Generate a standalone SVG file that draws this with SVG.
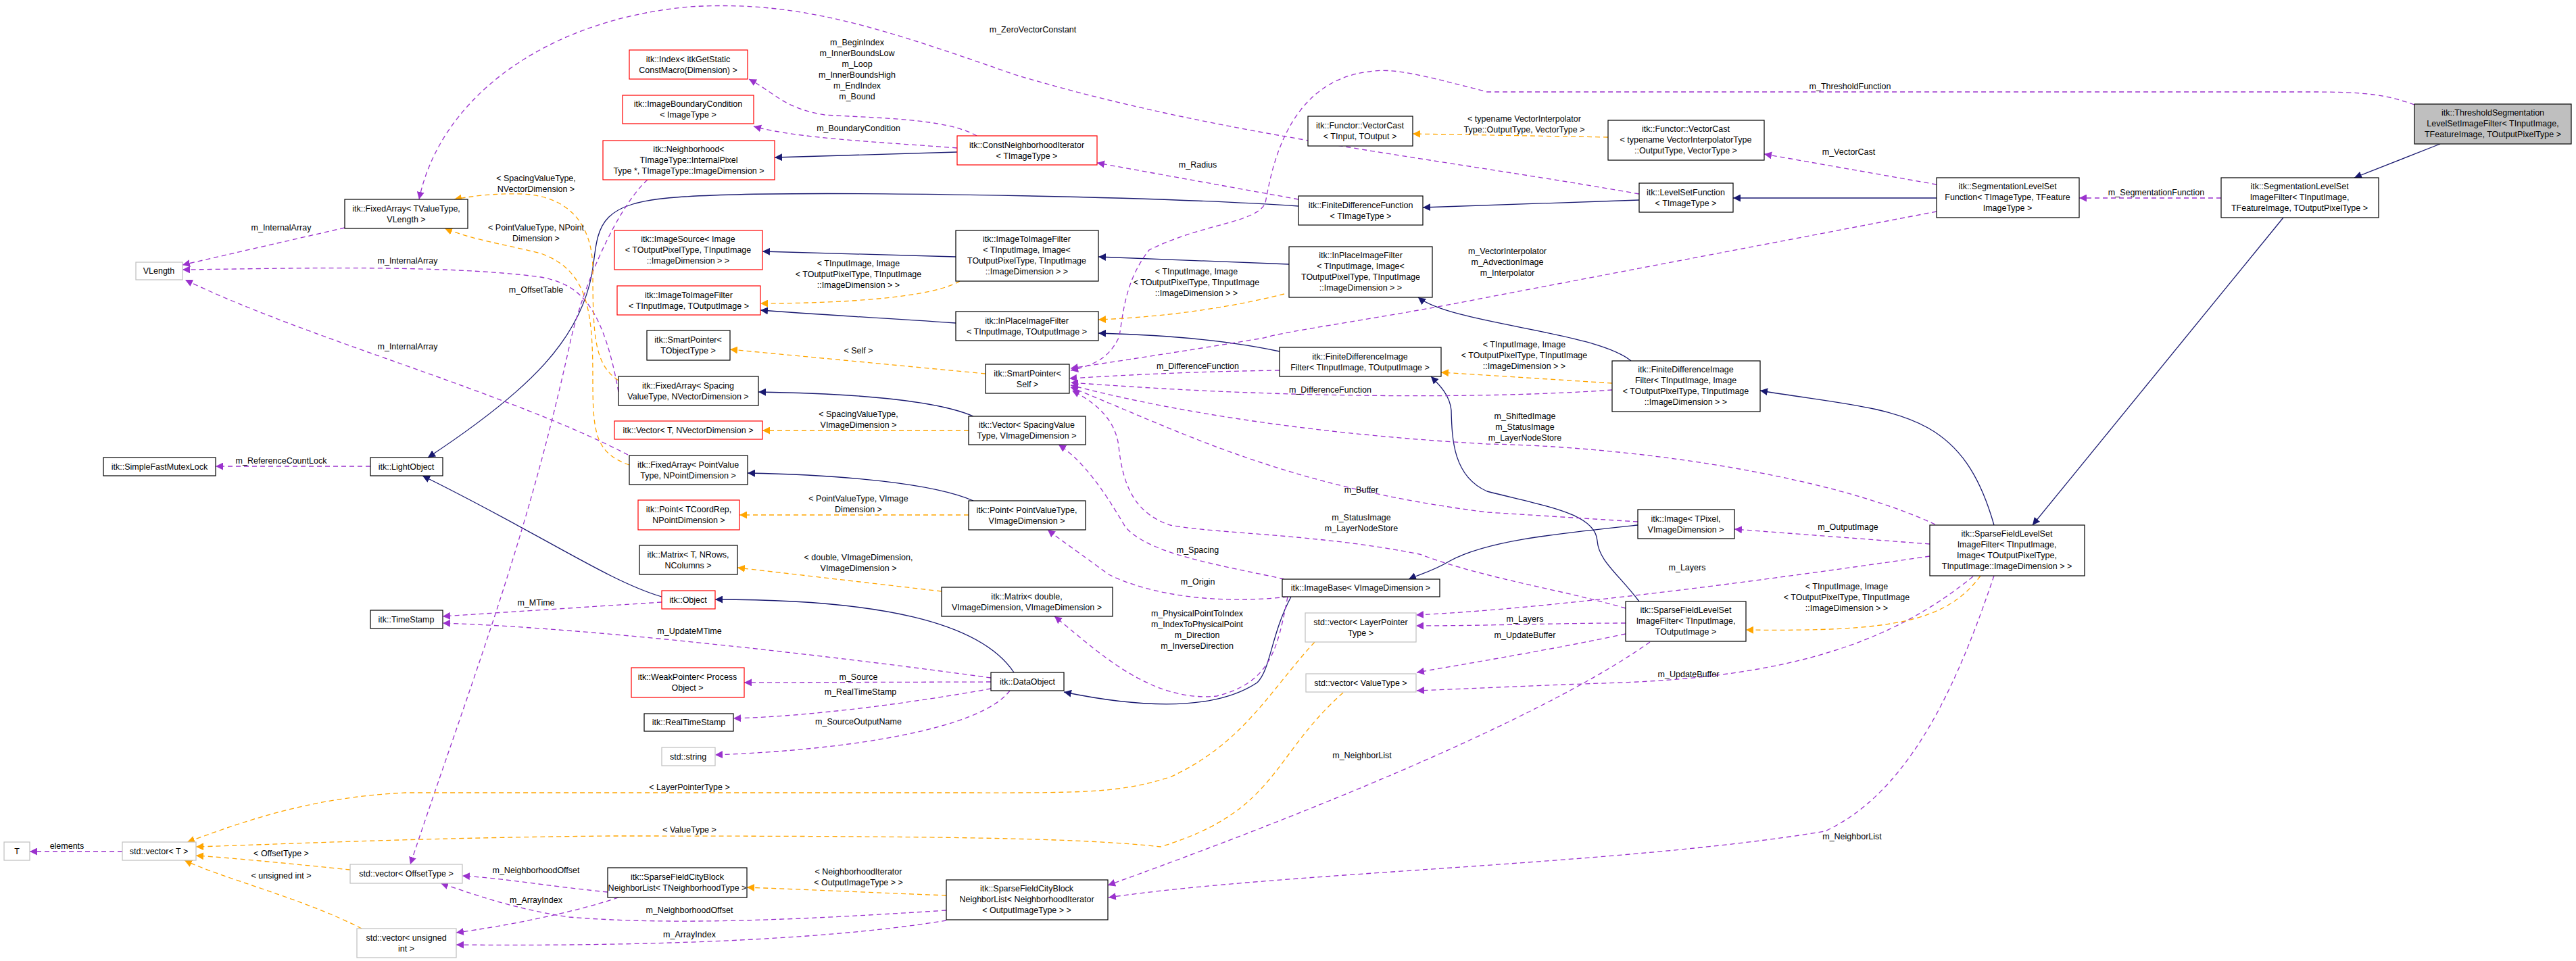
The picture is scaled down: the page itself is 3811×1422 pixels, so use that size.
<svg xmlns="http://www.w3.org/2000/svg" width="3811" height="1422" viewBox="0 0 3811 1422">
<style>
text{font-family:"Liberation Sans",Arial,sans-serif;font-size:12.5px;fill:#000;text-anchor:middle;dominant-baseline:central}
.n rect{fill:#fff;stroke:#000;stroke-width:1.2}
.r rect{stroke:#ff0000}
.g rect{stroke:#bfbfbf}
.inh{fill:none;stroke:#191970;stroke-width:1.3;marker-end:url(#mi)}
.use{fill:none;stroke:#9a32cd;stroke-width:1.3;stroke-dasharray:7,5;marker-end:url(#mu)}
.tpl{fill:none;stroke:#ffa500;stroke-width:1.3;stroke-dasharray:7,5;marker-end:url(#mt)}
</style>
<defs>
<marker id="mi" viewBox="0 0 10 10" refX="10" refY="5" markerWidth="11" markerHeight="11" markerUnits="userSpaceOnUse" orient="auto"><path d="M0,0 L10,5 L0,10 z" fill="#191970"/></marker>
<marker id="mu" viewBox="0 0 10 10" refX="10" refY="5" markerWidth="11" markerHeight="11" markerUnits="userSpaceOnUse" orient="auto"><path d="M0,0 L10,5 L0,10 z" fill="#9a32cd"/></marker>
<marker id="mt" viewBox="0 0 10 10" refX="10" refY="5" markerWidth="11" markerHeight="11" markerUnits="userSpaceOnUse" orient="auto"><path d="M0,0 L10,5 L0,10 z" fill="#ffa500"/></marker>
</defs>
<rect width="3811" height="1422" fill="#fff"/>
<g id="edges">
<path class="inh" d="M1416,225 L1146,233"/>
<path class="inh" d="M1921,305 C1700,290 1150,280 1000,292 C890,300 885,330 878,390 C865,500 780,580 633,677"/>
<path class="inh" d="M2425,296 L2105,307"/>
<path class="inh" d="M2865,293 L2564,293"/>
<path class="inh" d="M3610,213 L3483,263"/>
<path class="inh" d="M1414,380 L1128,372"/>
<path class="inh" d="M1414,478 C1300,470 1200,465 1125,459"/>
<path class="inh" d="M1907,391 L1625,380"/>
<path class="inh" d="M1893,520 C1800,500 1700,495 1625,493"/>
<path class="inh" d="M2413,534 C2360,490 2150,480 2098,440"/>
<path class="inh" d="M1440,616 C1380,590 1250,582 1122,580"/>
<path class="inh" d="M1440,741 C1380,715 1250,703 1106,700"/>
<path class="inh" d="M1500,995 C1450,920 1300,887 1058,887"/>
<path class="inh" d="M979,883 C900,860 800,790 625,704"/>
<path class="inh" d="M1910,883 C1880,940 1880,990 1860,1010 C1800,1050 1700,1050 1574,1024"/>
<path class="inh" d="M2423,777 C2300,790 2200,800 2145,830 C2120,845 2100,850 2084,857"/>
<path class="inh" d="M2950,777 C2900,600 2800,610 2604,578"/>
<path class="inh" d="M3378,322 L3007,777"/>
<path class="inh" d="M2425,890 C2395,850 2365,830 2363,800 C2360,760 2290,750 2200,727 C2150,705 2148,650 2147,607 C2145,585 2130,570 2117,557"/>
<path class="use" d="M2425,287 C2100,230 1800,200 1500,110 C1300,40 1180,0 1020,10 C800,30 650,150 620,295"/>
<path class="use" d="M1445,201 C1400,175 1300,175 1220,170 C1160,160 1150,140 1108,117"/>
<path class="use" d="M1416,219 C1300,210 1180,205 1115,187"/>
<path class="use" d="M1921,295 L1623,241"/>
<path class="use" d="M2865,273 L2610,228"/>
<path class="use" d="M3286,293 L3076,293"/>
<path class="use" d="M3572,155 C3530,140 3500,136 3420,136 L2200,136 C2100,110 2060,100 2026,106 C1900,120 1880,260 1872,300 C1860,330 1780,330 1700,370 C1660,420 1661,480 1655,500 C1640,530 1620,540 1584,548"/>
<path class="use" d="M2865,313 L2200,440 C2050,470 1900,490 1870,500 C1750,520 1650,535 1584,545"/>
<path class="use" d="M1893,548 C1750,550 1650,556 1582,560"/>
<path class="use" d="M2385,577 C2200,590 1900,590 1584,566"/>
<path class="use" d="M2423,772 L2200,758 C1900,720 1750,640 1584,573"/>
<path class="use" d="M2863,776 C2700,700 2400,660 2200,657 C1900,640 1700,600 1584,570"/>
<path class="use" d="M2405,900 C2300,870 2200,857 2100,820 C1950,790 1800,790 1731,777 C1680,760 1661,720 1655,660 C1650,620 1620,595 1586,578"/>
<path class="use" d="M1900,857 C1800,835 1700,820 1665,780 C1630,720 1600,680 1566,658"/>
<path class="use" d="M1905,883 C1800,895 1700,880 1640,850 C1600,820 1570,800 1550,784"/>
<path class="use" d="M1905,883 C1890,960 1880,1010 1800,1030 C1700,1040 1620,960 1560,912"/>
<path class="use" d="M2855,805 L2566,783"/>
<path class="use" d="M2855,823 C2600,860 2300,900 2095,910"/>
<path class="use" d="M2405,922 C2300,922 2200,926 2095,926"/>
<path class="use" d="M2405,938 C2300,960 2200,977 2096,995"/>
<path class="use" d="M2919,853 C2800,950 2652,1000 2400,1010 C2250,1015 2150,1020 2096,1022"/>
<path class="use" d="M2441,950 C2300,1050 2000,1180 1639,1310"/>
<path class="use" d="M2950,852 C2900,1000 2830,1170 2700,1230 C2400,1280 1900,1290 1640,1328"/>
<path class="use" d="M548,690 L319,690"/>
<path class="use" d="M979,891 L655,912"/>
<path class="use" d="M1466,1003 C1300,980 900,930 655,922"/>
<path class="use" d="M1466,1009 L1101,1010"/>
<path class="use" d="M1466,1019 C1350,1040 1200,1060 1085,1063"/>
<path class="use" d="M1494,1022 C1450,1080 1250,1110 1058,1117"/>
<path class="use" d="M510,337 L270,392"/>
<path class="use" d="M915,580 C890,440 850,420 800,410 C650,390 400,398 270,399"/>
<path class="use" d="M929,673 C750,580 450,500 274,414"/>
<path class="use" d="M958,266 C920,300 870,400 845,500 C780,800 700,1000 607,1279"/>
<path class="use" d="M181,1260 L44,1260"/>
<path class="use" d="M899,1320 C800,1310 750,1300 684,1296"/>
<path class="use" d="M915,1328 C850,1350 750,1370 675,1380"/>
<path class="use" d="M1400,1347 C1200,1360 1000,1370 842,1357 C760,1345 700,1323 652,1307"/>
<path class="use" d="M1400,1362 C1200,1395 900,1400 675,1398"/>
<path class="tpl" d="M2379,203 L2090,198"/>
<path class="tpl" d="M1420,416 C1380,440 1250,449 1125,449"/>
<path class="tpl" d="M1900,435 C1800,460 1700,470 1625,473"/>
<path class="tpl" d="M2385,567 L2132,551"/>
<path class="tpl" d="M1458,553 L1080,517"/>
<path class="tpl" d="M1433,637 L1128,637"/>
<path class="tpl" d="M1433,762 L1094,762"/>
<path class="tpl" d="M1393,875 L1091,840"/>
<path class="tpl" d="M2930,852 C2880,920 2800,935 2583,932"/>
<path class="tpl" d="M1987,1025 C1880,1120 1890,1200 1717,1253 C1600,1240 1400,1237 900,1237 C600,1240 400,1250 290,1253"/>
<path class="tpl" d="M1945,950 C1880,1020 1840,1100 1731,1150 C1650,1175 1600,1173 1400,1173 L600,1173 C450,1180 350,1220 277,1246"/>
<path class="tpl" d="M518,1287 C450,1280 350,1270 290,1266"/>
<path class="tpl" d="M535,1374 C450,1330 330,1300 273,1273"/>
<path class="tpl" d="M1400,1325 L1105,1313"/>
<path class="tpl" d="M915,563 C880,540 877,500 877,400 C877,330 840,290 772,287 C730,286 700,290 672,295"/>
<path class="tpl" d="M931,688 C880,670 877,640 877,560 C877,460 870,400 800,375 C740,360 700,355 658,338"/>
</g>
<g id="labels">
<text x="1528" y="44">m_ZeroVectorConstant</text>
<text x="1268" y="63">m_BeginIndex</text><text x="1268" y="79">m_InnerBoundsLow</text><text x="1268" y="95">m_Loop</text><text x="1268" y="111">m_InnerBoundsHigh</text><text x="1268" y="127">m_EndIndex</text><text x="1268" y="143">m_Bound</text>
<text x="1270" y="190">m_BoundaryCondition</text>
<text x="1772" y="244">m_Radius</text>
<text x="2255" y="176">&lt; typename VectorInterpolator</text><text x="2255" y="192">Type::OutputType, VectorType &gt;</text>
<text x="2737" y="128">m_ThresholdFunction</text>
<text x="2735" y="225">m_VectorCast</text>
<text x="3190" y="285">m_SegmentationFunction</text>
<text x="2230" y="372">m_VectorInterpolator</text><text x="2230" y="388">m_AdvectionImage</text><text x="2230" y="404">m_Interpolator</text>
<text x="1270" y="390">&lt; TInputImage, Image</text><text x="1270" y="406">&lt; TOutputPixelType, TInputImage</text><text x="1270" y="422">::ImageDimension &gt; &gt;</text>
<text x="1770" y="402">&lt; TInputImage, Image</text><text x="1770" y="418">&lt; TOutputPixelType, TInputImage</text><text x="1770" y="434">::ImageDimension &gt; &gt;</text>
<text x="2255" y="510">&lt; TInputImage, Image</text><text x="2255" y="526">&lt; TOutputPixelType, TInputImage</text><text x="2255" y="542">::ImageDimension &gt; &gt;</text>
<text x="1772" y="542">m_DifferenceFunction</text>
<text x="1968" y="577">m_DifferenceFunction</text>
<text x="1270" y="519">&lt; Self &gt;</text>
<text x="1270" y="613">&lt; SpacingValueType,</text><text x="1270" y="629">VImageDimension &gt;</text>
<text x="1270" y="738">&lt; PointValueType, VImage</text><text x="1270" y="754">Dimension &gt;</text>
<text x="1270" y="825">&lt; double, VImageDimension,</text><text x="1270" y="841">VImageDimension &gt;</text>
<text x="2014" y="725">m_Buffer</text>
<text x="2014" y="766">m_StatusImage</text><text x="2014" y="782">m_LayerNodeStore</text>
<text x="1772" y="814">m_Spacing</text>
<text x="1772" y="861">m_Origin</text>
<text x="1771" y="908">m_PhysicalPointToIndex</text><text x="1771" y="924">m_IndexToPhysicalPoint</text><text x="1771" y="940">m_Direction</text><text x="1771" y="956">m_InverseDirection</text>
<text x="2256" y="616">m_ShiftedImage</text><text x="2256" y="632">m_StatusImage</text><text x="2256" y="648">m_LayerNodeStore</text>
<text x="2734" y="780">m_OutputImage</text>
<text x="2496" y="840">m_Layers</text>
<text x="2256" y="916">m_Layers</text>
<text x="2256" y="940">m_UpdateBuffer</text>
<text x="2498" y="998">m_UpdateBuffer</text>
<text x="2732" y="868">&lt; TInputImage, Image</text><text x="2732" y="884">&lt; TOutputPixelType, TInputImage</text><text x="2732" y="900">::ImageDimension &gt; &gt;</text>
<text x="2015" y="1118">m_NeighborList</text>
<text x="2740" y="1238">m_NeighborList</text>
<text x="416" y="682">m_ReferenceCountLock</text>
<text x="793" y="892">m_MTime</text>
<text x="1020" y="934">m_UpdateMTime</text>
<text x="1270" y="1002">m_Source</text>
<text x="1273" y="1024">m_RealTimeStamp</text>
<text x="1270" y="1068">m_SourceOutputName</text>
<text x="416" y="337">m_InternalArray</text>
<text x="603" y="386">m_InternalArray</text>
<text x="603" y="513">m_InternalArray</text>
<text x="793" y="264">&lt; SpacingValueType,</text><text x="793" y="280">NVectorDimension &gt;</text>
<text x="793" y="337">&lt; PointValueType, NPoint</text><text x="793" y="353">Dimension &gt;</text>
<text x="793" y="429">m_OffsetTable</text>
<text x="1020" y="1165">&lt; LayerPointerType &gt;</text>
<text x="1020" y="1228">&lt; ValueType &gt;</text>
<text x="99" y="1252">elements</text>
<text x="416" y="1263">&lt; OffsetType &gt;</text>
<text x="416" y="1296">&lt; unsigned int &gt;</text>
<text x="793" y="1288">m_NeighborhoodOffset</text>
<text x="1020" y="1347">m_NeighborhoodOffset</text>
<text x="793" y="1332">m_ArrayIndex</text>
<text x="1020" y="1383">m_ArrayIndex</text>
<text x="1270" y="1290">&lt; NeighborhoodIterator</text><text x="1270" y="1306">&lt; OutputImageType &gt; &gt;</text>
</g>
<g id="n_index" class="n r"><rect x="931" y="74" width="175" height="43"/><text x="1018" y="88">itk::Index&lt; itkGetStatic</text><text x="1018" y="104">ConstMacro(Dimension) &gt;</text></g>
<g id="n_ibc" class="n r"><rect x="921" y="141" width="194" height="42"/><text x="1018" y="154">itk::ImageBoundaryCondition</text><text x="1018" y="170">&lt; ImageType &gt;</text></g>
<g id="n_nbh" class="n r"><rect x="892" y="208" width="254" height="58"/><text x="1019" y="221">itk::Neighborhood&lt;</text><text x="1019" y="237">TImageType::InternalPixel</text><text x="1019" y="253">Type *, TImageType::ImageDimension &gt;</text></g>
<g id="n_fa_tv" class="n"><rect x="510" y="295" width="182" height="43"/><text x="601" y="309">itk::FixedArray&lt; TValueType,</text><text x="601" y="325">VLength &gt;</text></g>
<g id="n_vlength" class="n g"><rect x="201" y="388" width="69" height="26"/><text x="235" y="401">VLength</text></g>
<g id="n_isrc" class="n r"><rect x="909" y="341" width="219" height="58"/><text x="1018" y="354">itk::ImageSource&lt; Image</text><text x="1018" y="370">&lt; TOutputPixelType, TInputImage</text><text x="1018" y="386">::ImageDimension &gt; &gt;</text></g>
<g id="n_itif_to" class="n r"><rect x="913" y="423" width="212" height="43"/><text x="1019" y="437">itk::ImageToImageFilter</text><text x="1019" y="453">&lt; TInputImage, TOutputImage &gt;</text></g>
<g id="n_sp_obj" class="n"><rect x="957" y="489" width="123" height="44"/><text x="1018" y="503">itk::SmartPointer&lt;</text><text x="1018" y="519">TObjectType &gt;</text></g>
<g id="n_cni" class="n r"><rect x="1416" y="201" width="207" height="43"/><text x="1519" y="215">itk::ConstNeighborhoodIterator</text><text x="1519" y="231">&lt; TImageType &gt;</text></g>
<g id="n_fvc" class="n"><rect x="1935" y="172" width="155" height="44"/><text x="2012" y="186">itk::Functor::VectorCast</text><text x="2012" y="202">&lt; TInput, TOutput &gt;</text></g>
<g id="n_fdf" class="n"><rect x="1921" y="290" width="184" height="43"/><text x="2013" y="304">itk::FiniteDifferenceFunction</text><text x="2013" y="320">&lt; TImageType &gt;</text></g>
<g id="n_itif_img" class="n"><rect x="1414" y="341" width="211" height="75"/><text x="1519" y="354">itk::ImageToImageFilter</text><text x="1519" y="370">&lt; TInputImage, Image&lt;</text><text x="1519" y="386">TOutputPixelType, TInputImage</text><text x="1519" y="402">::ImageDimension &gt; &gt;</text></g>
<g id="n_ipif_img" class="n"><rect x="1907" y="365" width="212" height="75"/><text x="2013" y="378">itk::InPlaceImageFilter</text><text x="2013" y="394">&lt; TInputImage, Image&lt;</text><text x="2013" y="410">TOutputPixelType, TInputImage</text><text x="2013" y="426">::ImageDimension &gt; &gt;</text></g>
<g id="n_ipif_to" class="n"><rect x="1414" y="461" width="211" height="43"/><text x="1519" y="475">itk::InPlaceImageFilter</text><text x="1519" y="491">&lt; TInputImage, TOutputImage &gt;</text></g>
<g id="n_thresh" class="n"><rect x="3572" y="154" width="232" height="59" style="fill:#bfbfbf"/><text x="3688" y="167">itk::ThresholdSegmentation</text><text x="3688" y="183">LevelSetImageFilter&lt; TInputImage,</text><text x="3688" y="199">TFeatureImage, TOutputPixelType &gt;</text></g>
<g id="n_vc" class="n"><rect x="2379" y="178" width="231" height="59"/><text x="2494" y="191">itk::Functor::VectorCast</text><text x="2494" y="207">&lt; typename VectorInterpolatorType</text><text x="2494" y="223">::OutputType, VectorType &gt;</text></g>
<g id="n_lsf" class="n"><rect x="2425" y="271" width="139" height="43"/><text x="2494" y="285">itk::LevelSetFunction</text><text x="2494" y="301">&lt; TImageType &gt;</text></g>
<g id="n_slsf" class="n"><rect x="2865" y="263" width="211" height="59"/><text x="2970" y="276">itk::SegmentationLevelSet</text><text x="2970" y="292">Function&lt; TImageType, TFeature</text><text x="2970" y="308">ImageType &gt;</text></g>
<g id="n_slsif" class="n"><rect x="3286" y="263" width="233" height="59"/><text x="3402" y="276">itk::SegmentationLevelSet</text><text x="3402" y="292">ImageFilter&lt; TInputImage,</text><text x="3402" y="308">TFeatureImage, TOutputPixelType &gt;</text></g>
<g id="n_fa_sp" class="n"><rect x="915" y="557" width="207" height="43"/><text x="1018" y="571">itk::FixedArray&lt; Spacing</text><text x="1018" y="587">ValueType, NVectorDimension &gt;</text></g>
<g id="n_vec_t" class="n r"><rect x="909" y="623" width="219" height="27"/><text x="1018" y="637">itk::Vector&lt; T, NVectorDimension &gt;</text></g>
<g id="n_fa_pt" class="n"><rect x="931" y="674" width="175" height="43"/><text x="1018" y="688">itk::FixedArray&lt; PointValue</text><text x="1018" y="704">Type, NPointDimension &gt;</text></g>
<g id="n_pt_t" class="n r"><rect x="944" y="740" width="150" height="44"/><text x="1019" y="754">itk::Point&lt; TCoordRep,</text><text x="1019" y="770">NPointDimension &gt;</text></g>
<g id="n_mat_t" class="n"><rect x="946" y="807" width="145" height="43"/><text x="1018" y="821">itk::Matrix&lt; T, NRows,</text><text x="1018" y="837">NColumns &gt;</text></g>
<g id="n_obj" class="n r"><rect x="979" y="874" width="79" height="27"/><text x="1018" y="888">itk::Object</text></g>
<g id="n_mutex" class="n"><rect x="153" y="677" width="166" height="27"/><text x="236" y="691">itk::SimpleFastMutexLock</text></g>
<g id="n_lobj" class="n"><rect x="548" y="677" width="107" height="27"/><text x="601" y="691">itk::LightObject</text></g>
<g id="n_ts" class="n"><rect x="548" y="903" width="107" height="27"/><text x="601" y="917">itk::TimeStamp</text></g>
<g id="n_weak" class="n r"><rect x="934" y="988" width="167" height="44"/><text x="1017" y="1002">itk::WeakPointer&lt; Process</text><text x="1017" y="1018">Object &gt;</text></g>
<g id="n_sp_self" class="n"><rect x="1458" y="539" width="124" height="43"/><text x="1520" y="553">itk::SmartPointer&lt;</text><text x="1520" y="569">Self &gt;</text></g>
<g id="n_fdif_to" class="n"><rect x="1893" y="514" width="239" height="43"/><text x="2012" y="528">itk::FiniteDifferenceImage</text><text x="2012" y="544">Filter&lt; TInputImage, TOutputImage &gt;</text></g>
<g id="n_vec_sp" class="n"><rect x="1433" y="616" width="173" height="42"/><text x="1519" y="629">itk::Vector&lt; SpacingValue</text><text x="1519" y="645">Type, VImageDimension &gt;</text></g>
<g id="n_pt_pv" class="n"><rect x="1433" y="741" width="173" height="43"/><text x="1519" y="755">itk::Point&lt; PointValueType,</text><text x="1519" y="771">VImageDimension &gt;</text></g>
<g id="n_mat_d" class="n"><rect x="1393" y="869" width="253" height="43"/><text x="1519" y="883">itk::Matrix&lt; double,</text><text x="1519" y="899">VImageDimension, VImageDimension &gt;</text></g>
<g id="n_ibase" class="n"><rect x="1897" y="857" width="233" height="26"/><text x="2013" y="870">itk::ImageBase&lt; VImageDimension &gt;</text></g>
<g id="n_vlp" class="n g"><rect x="1931" y="907" width="164" height="43"/><text x="2013" y="921">std::vector&lt; LayerPointer</text><text x="2013" y="937">Type &gt;</text></g>
<g id="n_dobj" class="n"><rect x="1466" y="995" width="108" height="27"/><text x="1520" y="1009">itk::DataObject</text></g>
<g id="n_fdif_img" class="n"><rect x="2385" y="534" width="219" height="75"/><text x="2494" y="547">itk::FiniteDifferenceImage</text><text x="2494" y="563">Filter&lt; TInputImage, Image</text><text x="2494" y="579">&lt; TOutputPixelType, TInputImage</text><text x="2494" y="595">::ImageDimension &gt; &gt;</text></g>
<g id="n_image" class="n"><rect x="2423" y="754" width="143" height="43"/><text x="2494" y="768">itk::Image&lt; TPixel,</text><text x="2494" y="784">VImageDimension &gt;</text></g>
<g id="n_sflsif_img" class="n"><rect x="2855" y="777" width="229" height="75"/><text x="2969" y="790">itk::SparseFieldLevelSet</text><text x="2969" y="806">ImageFilter&lt; TInputImage,</text><text x="2969" y="822">Image&lt; TOutputPixelType,</text><text x="2969" y="838">TInputImage::ImageDimension &gt; &gt;</text></g>
<g id="n_sflsif_to" class="n"><rect x="2405" y="890" width="178" height="59"/><text x="2494" y="903">itk::SparseFieldLevelSet</text><text x="2494" y="919">ImageFilter&lt; TInputImage,</text><text x="2494" y="935">TOutputImage &gt;</text></g>
<g id="n_vvt" class="n g"><rect x="1932" y="997" width="163" height="27"/><text x="2013" y="1011">std::vector&lt; ValueType &gt;</text></g>
<g id="n_cb_ni" class="n"><rect x="1400" y="1302" width="239" height="59"/><text x="1519" y="1315">itk::SparseFieldCityBlock</text><text x="1519" y="1331">NeighborList&lt; NeighborhoodIterator</text><text x="1519" y="1347">&lt; OutputImageType &gt; &gt;</text></g>
<g id="n_str" class="n g"><rect x="979" y="1106" width="79" height="27"/><text x="1018" y="1120">std::string</text></g>
<g id="n_rts" class="n"><rect x="953" y="1056" width="132" height="26"/><text x="1019" y="1069">itk::RealTimeStamp</text></g>
<g id="n_T" class="n g"><rect x="6" y="1246" width="38" height="27"/><text x="25" y="1260">T</text></g>
<g id="n_vT" class="n g"><rect x="181" y="1246" width="109" height="27"/><text x="235" y="1260">std::vector&lt; T &gt;</text></g>
<g id="n_voff" class="n g"><rect x="518" y="1279" width="166" height="28"/><text x="601" y="1293">std::vector&lt; OffsetType &gt;</text></g>
<g id="n_vui" class="n g"><rect x="528" y="1374" width="147" height="43"/><text x="601" y="1388">std::vector&lt; unsigned</text><text x="601" y="1404">int &gt;</text></g>
<g id="n_cb_tn" class="n"><rect x="899" y="1284" width="206" height="44"/><text x="1002" y="1298">itk::SparseFieldCityBlock</text><text x="1002" y="1314">NeighborList&lt; TNeighborhoodType &gt;</text></g>
</svg>
